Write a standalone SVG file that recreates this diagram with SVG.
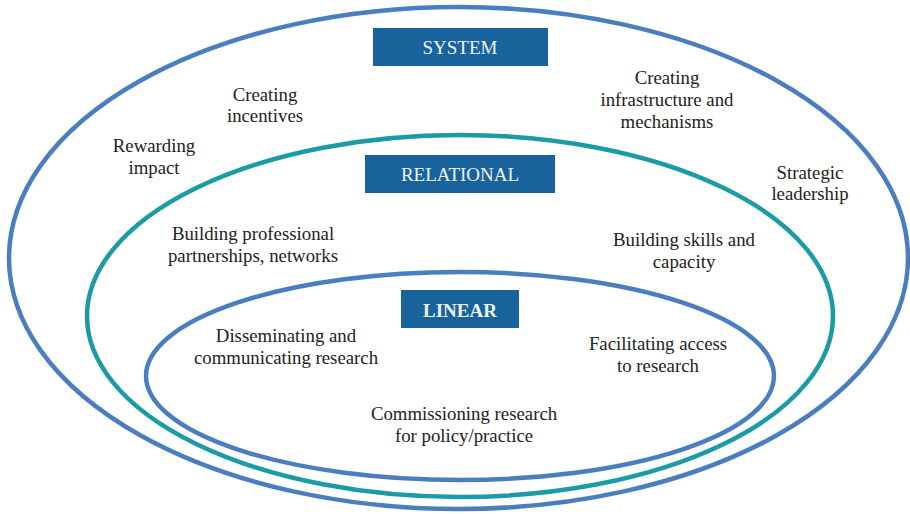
<svg xmlns="http://www.w3.org/2000/svg" width="910" height="514" viewBox="0 0 910 514">
<style>
.ring{fill:none;stroke-width:4.5}
.blue{stroke:#4a7ebf}
.teal{stroke:#1b9ba6}
.box{fill:#19639c}
.lbl{font-family:'Liberation Serif',serif;font-size:18.8px;fill:#222;text-anchor:middle}
.hdr{font-family:'Liberation Serif',serif;font-size:19px;fill:#eef3f8;text-anchor:middle}
</style>
<rect width="910" height="514" fill="#fff"/>
<g id="connectors"></g>
<g id="system">
<ellipse class="ring blue" cx="458.5" cy="258" rx="449.5" ry="251"/>
<rect class="box" x="373" y="28" width="175" height="38"/>
<text class="hdr" x="460" y="54">SYSTEM</text>
</g>
<g id="relational">
<ellipse class="ring teal" cx="460" cy="316" rx="373" ry="181"/>
<rect class="box" x="365" y="155" width="190" height="38"/>
<text class="hdr" x="460" y="181">RELATIONAL</text>
</g>
<g id="linear">
<ellipse class="ring blue" cx="460" cy="376" rx="314" ry="104"/>
<rect class="box" x="401" y="290" width="118" height="38"/>
<text class="hdr" x="460" y="317" font-weight="bold">LINEAR</text>
</g>
<g id="creating-incentives"><text class="lbl" x="265" y="101">Creating</text><text class="lbl" x="265" y="122">incentives</text></g>
<g id="rewarding-impact"><text class="lbl" x="154" y="152">Rewarding</text><text class="lbl" x="154" y="174">impact</text></g>
<g id="creating-infrastructure"><text class="lbl" x="667" y="84">Creating</text><text class="lbl" x="667" y="106">infrastructure and</text><text class="lbl" x="667" y="128">mechanisms</text></g>
<g id="strategic-leadership"><text class="lbl" x="810" y="179">Strategic</text><text class="lbl" x="810" y="200">leadership</text></g>
<g id="building-partnerships"><text class="lbl" x="253" y="240">Building professional</text><text class="lbl" x="253" y="262">partnerships, networks</text></g>
<g id="building-skills"><text class="lbl" x="684" y="246">Building skills and</text><text class="lbl" x="684" y="268">capacity</text></g>
<g id="disseminating"><text class="lbl" x="286" y="342">Disseminating and</text><text class="lbl" x="286" y="364">communicating research</text></g>
<g id="facilitating"><text class="lbl" x="658" y="350">Facilitating access</text><text class="lbl" x="658" y="372">to research</text></g>
<g id="commissioning"><text class="lbl" x="464" y="420">Commissioning research</text><text class="lbl" x="464" y="442">for policy/practice</text></g>
</svg>
